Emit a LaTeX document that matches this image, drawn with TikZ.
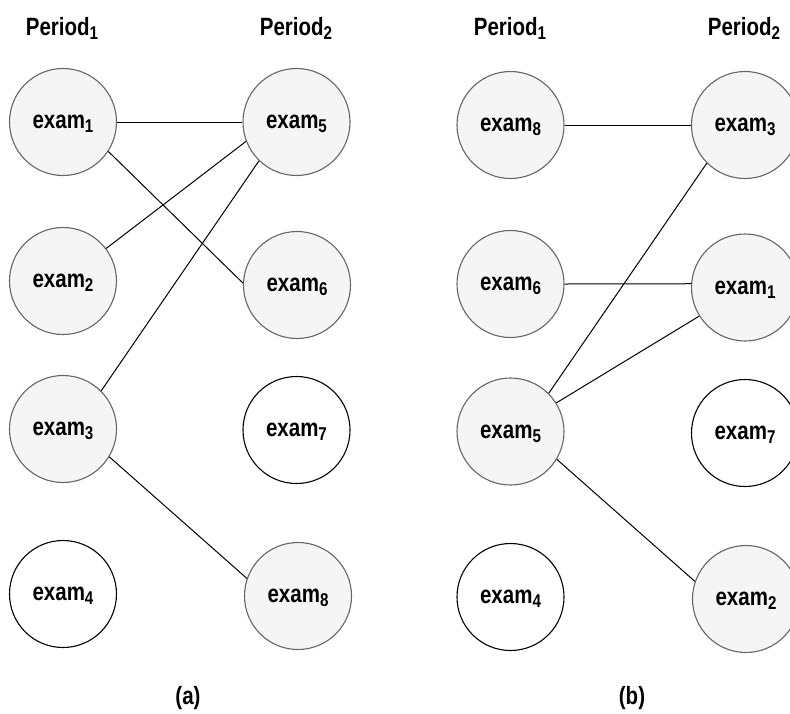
\documentclass[tikz,border=0pt]{standalone}
\usepackage{fontspec}
\newfontfamily\diafont[FakeStretch=0.82]{Liberation Sans}
\definecolor{nodefill}{HTML}{F5F5F5}
\definecolor{nodeline}{HTML}{666666}
% lowered index digit used in the labels
\newcommand\lowidx[1]{\raisebox{-4pt}{\fontsize{18.5}{18.5}\selectfont #1}}
\begin{document}
\begin{tikzpicture}[x=1pt,y=-1pt,
  every node/.style={font=\diafont\bfseries\fontsize{25}{25}\selectfont},
  exam/.style={circle,minimum size=107pt,inner sep=0pt,line width=1.1pt,
    text height=13pt,text depth=0pt},
  used/.style={exam,draw=nodeline,fill=nodefill},
  free/.style={exam,draw=black,fill=white},
  heading/.style={anchor=base,inner sep=0pt},
  link/.style={draw=black,line width=1pt}]
\clip (0,0) rectangle (790,713);
\fill[white] (0,0) rectangle (790,713);

% ---------- (a) ----------
\node[heading] (pa1) at (62,35) {Period\lowidx{1}};
\node[heading] (pa2) at (296,35) {Period\lowidx{2}};
\node[used] (a1) at (63,122)   {exam\lowidx{1}};
\node[used] (a2) at (63,281)   {exam\lowidx{2}};
\node[used] (a3) at (63,429)   {exam\lowidx{3}};
\node[free] (a4) at (63,594)   {exam\lowidx{4}};
\node[used] (a5) at (296.5,122) {exam\lowidx{5}};
\node[used] (a6) at (297,285)   {exam\lowidx{6}};
\node[free] (a7) at (296.5,430) {exam\lowidx{7}};
\node[used] (a8) at (298,596)   {exam\lowidx{8}};
\node[heading] (capa) at (188,704) {(a)};

\draw[link] (a1.0) -- (a5.180);
\draw[link] (a1.-33) -- (a6.178);
\draw[link] (a2.37) -- (a5.201.6);
\draw[link] (a3.45) -- (a5.226);
\draw[link] (a3.-31) -- (a8.161);

% ---------- (b) ----------
\node[heading] (pb1) at (510,35) {Period\lowidx{1}};
\node[heading] (pb2) at (744,35) {Period\lowidx{2}};
\node[used] (b8) at (510.5,125)   {exam\lowidx{8}};
\node[used] (b6) at (510.5,284)   {exam\lowidx{6}};
\node[used] (b5) at (510.5,431.5) {exam\lowidx{5}};
\node[free] (b4) at (510.5,597)   {exam\lowidx{4}};
\node[used] (b3) at (745,125)     {exam\lowidx{3}};
\node[used] (b1) at (745,287.5)   {exam\lowidx{1}};
\node[free] (b7) at (745,433)     {exam\lowidx{7}};
\node[used] (b2) at (746,599)     {exam\lowidx{2}};
\node[heading] (capb) at (632,704) {(b)};

\draw[link] (b8.0) -- (b3.180);
\draw[link] (b6.0) -- (b1.176);
\draw[link] (b5.45) -- (b3.225);
\draw[link] (b5.32) -- (b1.212.6);
\draw[link] (b5.-31) -- (b2.161);
\end{tikzpicture}
\end{document}
